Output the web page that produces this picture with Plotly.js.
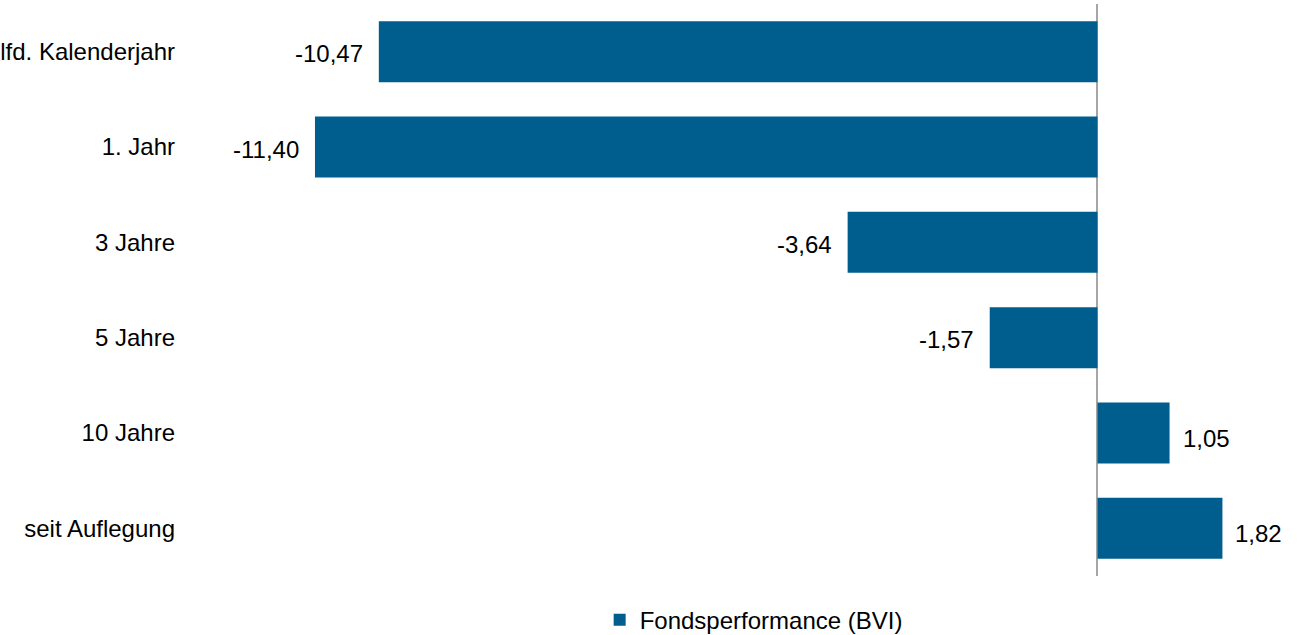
<!DOCTYPE html>
<html>
<head>
<meta charset="utf-8">
<script src="https://cdn.plot.ly/plotly-3.0.1.min.js"></script>
<style>html,body{margin:0;padding:0;background:#fff;}#chart{width:1299px;height:635px;}</style>
</head>
<body>
<div id="chart"></div>
<script>
const categories = ["lfd. Kalenderjahr", "1. Jahr", "3 Jahre", "5 Jahre", "10 Jahre", "seit Auflegung"];
const values = [-10.47, -11.40, -3.64, -1.57, 1.05, 1.82];
const seriesName = "Fondsperformance (BVI)";

const fmt = v => v.toFixed(2).replace('.', ',');
const FONT = "Liberation Sans, Arial, sans-serif";
const FS = 24;

const trace = {
  type: 'bar',
  orientation: 'h',
  x: values,
  y: categories,
  name: seriesName,
  width: 0.64,
  marker: {color: '#005E8E'},
  hoverinfo: 'skip',
  showlegend: true
};

const annotations = values.map((v, i) => ({
  x: v,
  y: categories[i],
  xref: 'x',
  yref: 'y',
  text: fmt(v),
  showarrow: false,
  xanchor: v < 0 ? 'right' : 'left',
  xshift: v < 0 ? -14 : 11,
  yshift: v < 0 ? -2 : -5,
  font: {family: FONT, size: FS, color: '#000'}
}));

const layout = {
  width: 1299,
  height: 635,
  margin: {l: 200, r: 10, t: 4, b: 59, autoexpand: false},
  paper_bgcolor: '#fff',
  plot_bgcolor: '#fff',
  separators: ',.',
  font: {family: FONT, size: FS, color: '#000'},
  xaxis: {
    range: [-13.075, 2.79],
    showgrid: false,
    showticklabels: false,
    ticks: '',
    zeroline: true,
    zerolinecolor: '#a6a6a6',
    zerolinewidth: 2,
    showline: false,
    fixedrange: true
  },
  yaxis: {
    type: 'category',
    autorange: 'reversed',
    showgrid: false,
    zeroline: false,
    showline: false,
    ticks: '',
    ticklabelstandoff: 24,
    tickfont: {family: FONT, size: FS, color: '#000'},
    automargin: false,
    fixedrange: true
  },
  showlegend: true,
  legend: {
    orientation: 'h',
    x: 0.367,
    xanchor: 'left',
    y: -0.077,
    yanchor: 'middle',
    font: {family: FONT, size: FS, color: '#000'},
    bgcolor: 'rgba(0,0,0,0)'
  },
  annotations: annotations,
  bargap: 0.36
};

Plotly.newPlot('chart', [trace], layout, {displayModeBar: false, staticPlot: true});
</script>
</body>
</html>
